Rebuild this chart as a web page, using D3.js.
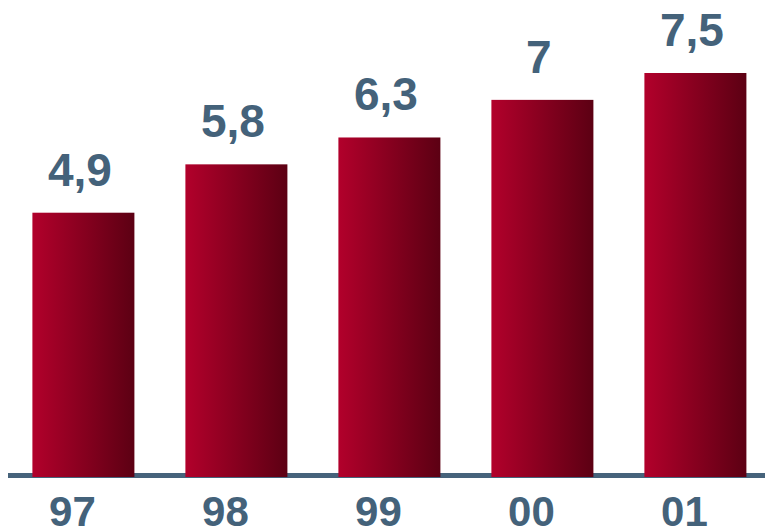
<!DOCTYPE html>
<html>
<head>
<meta charset="utf-8">
<script src="https://cdn.jsdelivr.net/npm/d3@7"></script>
<style>
  html, body { margin: 0; padding: 0; background: #ffffff; }
  svg { display: block; }
  text { font-family: "Liberation Sans", Arial, Helvetica, sans-serif; font-weight: bold; fill: #44627a; }
</style>
</head>
<body>
<svg id="chart" width="765" height="530"></svg>
<script>
// Categories (years) and values
const years = ["97", "98", "99", "00", "01"];
const values = [4.9, 5.8, 6.3, 7, 7.5];
const valueLabels = ["4,9", "5,8", "6,3", "7", "7,5"];

const W = 765, H = 530;
const svg = d3.select("#chart");

const x = d3.scaleBand()
  .domain(years)
  .range([6.9, 771.9])
  .paddingInner(1 / 3)
  .paddingOuter(1 / 6);

const y = d3.scaleLinear()
  .domain([0, 7.5])
  .range([476, 73]);

// Horizontal red gradient used on every bar
const defs = svg.append("defs");
const grad = defs.append("linearGradient")
  .attr("id", "barGrad")
  .attr("x1", "0%").attr("x2", "100%")
  .attr("y1", "0%").attr("y2", "0%");
grad.append("stop").attr("offset", "0%").attr("stop-color", "#b2002b");
grad.append("stop").attr("offset", "100%").attr("stop-color", "#5c0013");

// Baseline
svg.append("rect")
  .attr("x", 8)
  .attr("y", 473)
  .attr("width", W - 8)
  .attr("height", 5)
  .attr("fill", "#46637b");

// Bars
svg.selectAll("rect.bar")
  .data(values)
  .join("rect")
  .attr("class", "bar")
  .attr("x", (d, i) => x(years[i]))
  .attr("y", d => y(d))
  .attr("width", x.bandwidth())
  .attr("height", d => y(0) + 1 - y(d))
  .attr("fill", "url(#barGrad)");

// Value labels above bars
svg.selectAll("text.val")
  .data(values)
  .join("text")
  .attr("class", "val")
  .attr("x", (d, i) => x(years[i]) + x.bandwidth() / 2 - 3.5)
  .attr("y", d => y(d) - 27)
  .attr("text-anchor", "middle")
  .attr("font-size", 46)
  .text((d, i) => valueLabels[i]);

// Year labels under the baseline
svg.selectAll("text.cat")
  .data(years)
  .join("text")
  .attr("class", "cat")
  .attr("x", d => x(d) + x.bandwidth() / 2 - 11)
  .attr("y", 526)
  .attr("text-anchor", "middle")
  .attr("font-size", 42)
  .text(d => d);
</script>
</body>
</html>
